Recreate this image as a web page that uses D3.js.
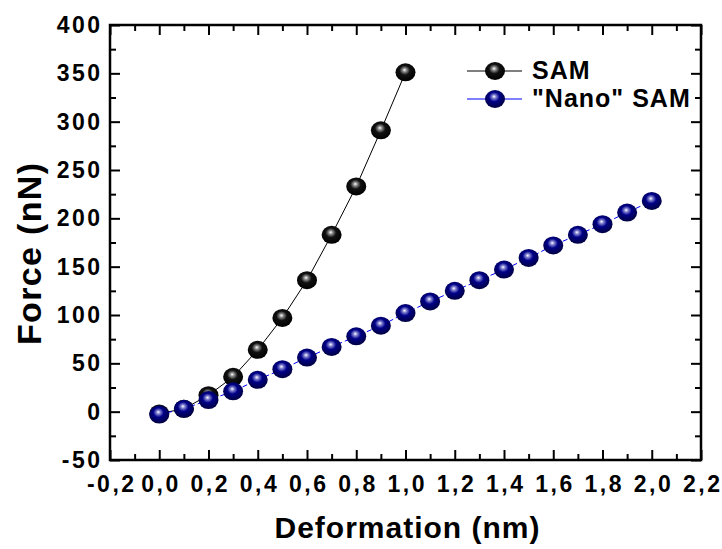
<!DOCTYPE html>
<html>
<head>
<meta charset="utf-8">
<script src="https://cdn.jsdelivr.net/npm/d3@7"></script>
<style>
  body { margin: 0; background: #fff; }
  text { font-family: "Liberation Sans", Arial, sans-serif; font-weight: bold; }
</style>
</head>
<body>
<div id="chart"></div>
<script>
var samX = [0.0, 0.1, 0.2, 0.3, 0.4, 0.5, 0.6, 0.7, 0.8, 0.9, 1.0];
var samY = [-2, 3, 17, 36, 64, 97, 136, 183, 233, 291, 351];

var nanoX = [0.0, 0.1, 0.2, 0.3, 0.4, 0.5, 0.6, 0.7, 0.8, 0.9, 1.0,
             1.1, 1.2, 1.3, 1.4, 1.5, 1.6, 1.7, 1.8, 1.9, 2.0];
var nanoY = [-3, 3, 12, 21, 33, 44, 56, 67, 78, 89, 102,
             114, 125, 136, 147, 159, 172, 183, 194, 206, 218];

var xTicks = [-0.2, 0.0, 0.2, 0.4, 0.6, 0.8, 1.0, 1.2, 1.4, 1.6, 1.8, 2.0, 2.2];
var yTicks = [-50, 0, 50, 100, 150, 200, 250, 300, 350, 400];
var seriesNames = ["SAM", "\"Nano\" SAM"];

var margin = {top: 25, right: 21, bottom: 89, left: 110},
    width = 722 - margin.left - margin.right,
    height = 549 - margin.top - margin.bottom;

var svg = d3.select("#chart")
    .append("svg")
    .attr("width", 722)
    .attr("height", 549);

// shaded "ball" markers
var defs = svg.append("defs");
function sphere(id, dark, mid, light) {
    var g = defs.append("radialGradient")
        .attr("id", id)
        .attr("cx", "48%").attr("cy", "42%").attr("r", "58%")
        .attr("fx", "45%").attr("fy", "36%");
    g.append("stop").attr("offset", "0%").attr("stop-color", "#ffffff");
    g.append("stop").attr("offset", "18%").attr("stop-color", light);
    g.append("stop").attr("offset", "45%").attr("stop-color", mid);
    g.append("stop").attr("offset", "100%").attr("stop-color", dark);
}
sphere("ballBlack", "#000000", "#111111", "#8a8a8a");
sphere("ballBlue", "#000040", "#000088", "#8080d0");

var plot = svg.append("g")
    .attr("transform", "translate(" + margin.left + "," + margin.top + ")");

var x = d3.scaleLinear().domain([-0.2, 2.2]).range([0, width]);
var y = d3.scaleLinear().domain([-50, 400]).range([height, 0]);

var fmt = function(d) { return d3.format(".1f")(d).replace(".", ",").replace("−", "-"); };

// minor ticks sit half way between the major ones
var xMinor = d3.range(-0.1, 2.2, 0.2);
var yMinor = d3.range(-25, 400, 50);

function drawTicks(axis, vals, len) {
    axis.tickValues(vals).tickSize(len).tickFormat("");
    return axis;
}

// bottom axis
var gx = plot.append("g").attr("transform", "translate(0," + height + ")");
gx.call(d3.axisBottom(x).tickValues(xTicks).tickSize(-10).tickPadding(16).tickFormat(fmt));
gx.append("g").call(drawTicks(d3.axisBottom(x), xMinor, -6));
// top axis
var gxt = plot.append("g");
gxt.call(drawTicks(d3.axisTop(x), xTicks, -10));
gxt.append("g").call(drawTicks(d3.axisTop(x), xMinor, -6));
// left axis
var gy = plot.append("g");
gy.call(d3.axisLeft(y).tickValues(yTicks).tickSize(-10).tickPadding(7.5)
    .tickFormat(function(d) { return String(d); }));
gy.append("g").call(drawTicks(d3.axisLeft(y), yMinor, -6));
// right axis
var gyr = plot.append("g").attr("transform", "translate(" + width + ",0)");
gyr.call(drawTicks(d3.axisRight(y), yTicks, -10));
gyr.append("g").call(drawTicks(d3.axisRight(y), yMinor, -6));

plot.selectAll(".domain").remove();
plot.selectAll(".tick line").attr("stroke", "#000").attr("stroke-width", 2);
plot.selectAll(".tick text")
    .style("font-size", "23px")
    .style("font-weight", "bold")
    .style("letter-spacing", "2.5px")
    .style("font-family", "'Liberation Sans', Arial, sans-serif")
    .attr("fill", "#000");
// x labels are centred, so shift them by half the trailing letter spacing
gx.selectAll(".tick text").attr("dx", 1.25);

plot.append("rect")
    .attr("width", width).attr("height", height)
    .attr("fill", "none").attr("stroke", "#000").attr("stroke-width", 2.5);

// lines
var line = d3.line()
    .x(function(d) { return x(d[0]); })
    .y(function(d) { return y(d[1]); });

var nano = d3.zip(nanoX, nanoY);
var sam = d3.zip(samX, samY);

plot.append("path").datum(sam).attr("d", line)
    .attr("fill", "none").attr("stroke", "#000").attr("stroke-width", 1);
plot.selectAll(".samPt").data(sam).enter().append("ellipse")
    .attr("cx", function(d) { return x(d[0]); })
    .attr("cy", function(d) { return y(d[1]); })
    .attr("rx", 10).attr("ry", 9)
    .attr("fill", "url(#ballBlack)");

plot.append("path").datum(nano).attr("d", line)
    .attr("fill", "none").attr("stroke", "#0000ff").attr("stroke-width", 1)
    .attr("stroke-dasharray", "5,3");
plot.selectAll(".nanoPt").data(nano).enter().append("ellipse")
    .attr("cx", function(d) { return x(d[0]); })
    .attr("cy", function(d) { return y(d[1]); })
    .attr("rx", 10).attr("ry", 9)
    .attr("fill", "url(#ballBlue)");

// legend
var legend = svg.append("g").attr("transform", "translate(467,71)");
var lcolors = [["#000", "url(#ballBlack)"], ["#0000ff", "url(#ballBlue)"]];
seriesNames.forEach(function(name, i) {
    var g = legend.append("g").attr("transform", "translate(0," + (i * 28) + ")");
    g.append("line").attr("x1", 0).attr("x2", 55).attr("y1", 0).attr("y2", 0)
        .attr("stroke", lcolors[i][0]).attr("stroke-width", 1);
    g.append("ellipse").attr("cx", 28).attr("cy", 0).attr("rx", 10).attr("ry", 9)
        .attr("fill", lcolors[i][1]);
    g.append("text").attr("x", 65).attr("y", 8)
        .style("font-size", "25px").style("letter-spacing", "1px").text(name);
});

// axis titles
svg.append("text")
    .attr("x", 407).attr("y", 538)
    .attr("text-anchor", "middle")
    .style("font-size", "30px")
    .attr("textLength", 265)
    .text("Deformation (nm)");
svg.append("text")
    .attr("transform", "translate(41,254) rotate(-90)")
    .attr("text-anchor", "middle")
    .style("font-size", "34px")
    .attr("textLength", 182)
    .text("Force (nN)");
</script>
</body>
</html>
